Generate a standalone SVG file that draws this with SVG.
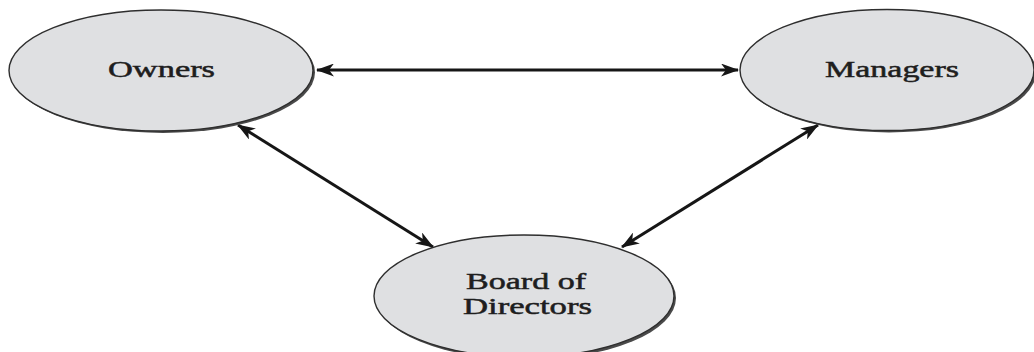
<svg xmlns="http://www.w3.org/2000/svg" width="1034" height="352" viewBox="0 0 1034 352">
  <defs>
    <marker id="head" viewBox="0 0 18 13" markerWidth="18" markerHeight="13" refX="17" refY="6.5" orient="auto-start-reverse" markerUnits="userSpaceOnUse">
      <path d="M0,0 L18,6.5 L0,13 L5,6.5 Z" fill="#161616"/>
    </marker>
  </defs>
  <style>
    .shadow { fill: #4a4a4a; }
    .body { fill: #dfe0e2; stroke: #2e2e2e; stroke-width: 1.4; }
    .label { font-family: "Liberation Serif", "Times New Roman", serif; font-size: 23px; fill: #1e1e1e; stroke: #1e1e1e; stroke-width: 0.5; text-anchor: middle; }
    .link { stroke: #161616; stroke-width: 3; fill: none; marker-start: url(#head); marker-end: url(#head); }
  </style>
  <rect width="1034" height="352" fill="#ffffff"/>

  <g id="connectors">
    <line class="link" x1="317" y1="70" x2="738" y2="70"/>
    <line class="link" x1="238" y1="125" x2="433" y2="247"/>
    <line class="link" x1="818" y1="125" x2="622" y2="247"/>
  </g>

  <g id="owners">
    <ellipse class="shadow" cx="163" cy="72.5" rx="152" ry="60.5"/>
    <ellipse class="body" cx="161" cy="70.5" rx="152" ry="60.5"/>
    <text class="label" x="161.5" y="77" textLength="107" lengthAdjust="spacingAndGlyphs">Owners</text>
  </g>

  <g id="managers">
    <ellipse class="shadow" cx="889" cy="72" rx="147" ry="60.5"/>
    <ellipse class="body" cx="887" cy="70" rx="147" ry="60.5"/>
    <text class="label" x="892" y="77" textLength="134" lengthAdjust="spacingAndGlyphs">Managers</text>
  </g>

  <g id="board">
    <ellipse class="shadow" cx="526" cy="298" rx="150" ry="61.5"/>
    <ellipse class="body" cx="524" cy="296" rx="150" ry="61"/>
    <text class="label" x="526" y="289" textLength="120" lengthAdjust="spacingAndGlyphs">Board of</text>
    <text class="label" x="527.5" y="314" textLength="129" lengthAdjust="spacingAndGlyphs">Directors</text>
  </g>
</svg>
